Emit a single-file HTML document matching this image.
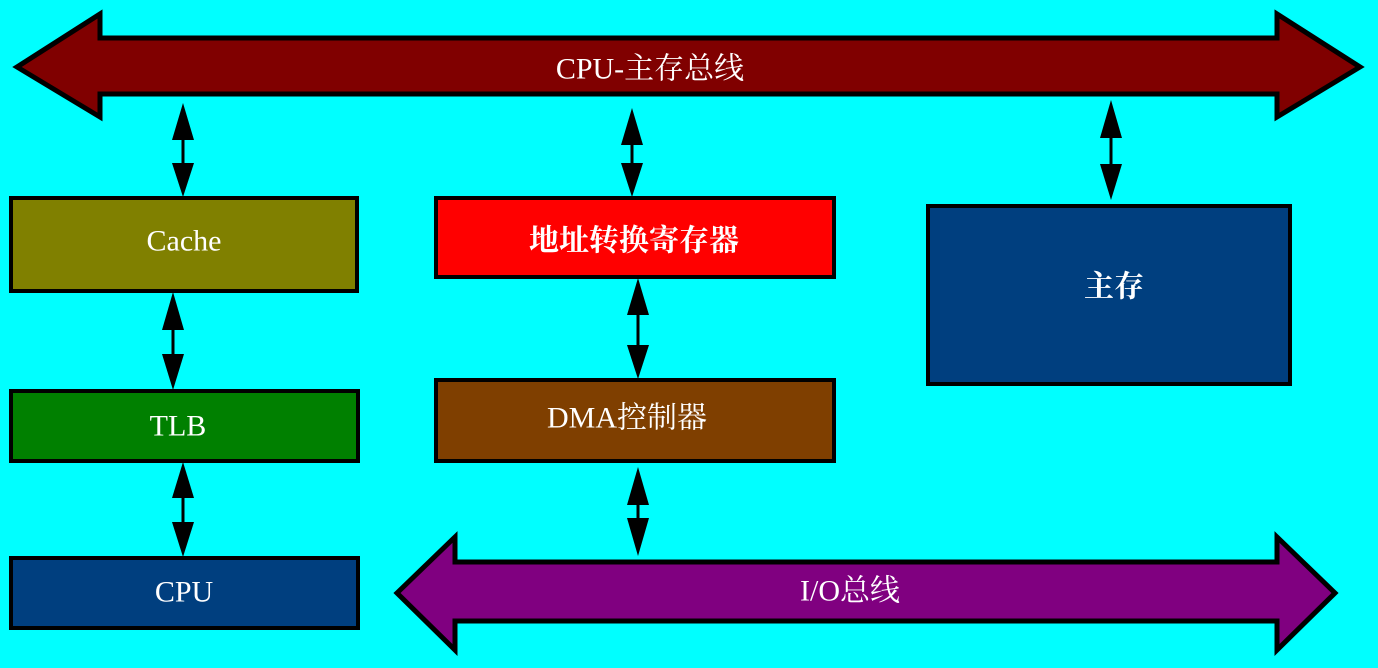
<!DOCTYPE html>
<html><head><meta charset="utf-8"><style>
body{margin:0;background:#00ffff;}
svg text{font-family:"Liberation Serif","Noto Serif CJK SC",serif;fill:#fff;text-anchor:middle;dominant-baseline:central;}
</style></head><body>
<svg width="1378" height="663" xmlns="http://www.w3.org/2000/svg">
<defs>
<marker id="a" viewBox="0 0 10 10" refX="9" refY="5" markerWidth="5" markerHeight="6" orient="auto-start-reverse" markerUnits="userSpaceOnUse" style="overflow:visible">
</marker>
</defs>
<rect width="1378" height="663" fill="#00ffff"/>
<polygon points="17,67 100,14 100,38 1277,38 1277,14 1360,67 1277,117 1277,94 100,94 100,117" fill="#800000" stroke="#000" stroke-width="5" stroke-linejoin="miter"/>
<text x="650" y="69" font-size="30">CPU-主存总线</text>
<polygon points="397,593 455,537 455,562 1277,562 1277,537 1335,593 1277,650 1277,621 455,621 455,650" fill="#800080" stroke="#000" stroke-width="5"/>
<text x="850" y="591" font-size="30">I/O总线</text>
<rect x="11" y="198" width="346" height="93" fill="#808000" stroke="#000" stroke-width="4"/>
<text x="184" y="241" font-size="30">Cache</text>
<rect x="11" y="391" width="347" height="70" fill="#008000" stroke="#000" stroke-width="4"/>
<text x="178" y="426" font-size="30">TLB</text>
<rect x="11" y="558" width="347" height="70" fill="#003f7f" stroke="#000" stroke-width="4"/>
<text x="184" y="592" font-size="30">CPU</text>
<rect x="436" y="198" width="398" height="79" fill="#ff0000" stroke="#000" stroke-width="4"/>
<text x="634" y="241" font-size="30" font-weight="bold">地址转换寄存器</text>
<rect x="436" y="380" width="398" height="81" fill="#7f3f00" stroke="#000" stroke-width="4"/>
<text x="627" y="418" font-size="30">DMA控制器</text>
<rect x="928" y="206" width="362" height="178" fill="#003f7f" stroke="#000" stroke-width="4"/>
<text x="1114" y="287" font-size="30" font-weight="bold">主存</text>
<g fill="#000" stroke="#000">
<!-- double arrows -->
<g id="d">
</g>
</g>
<g stroke="#000" stroke-width="3" fill="#000">
<line x1="183" y1="110" x2="183" y2="190"/><polygon points="183,103 172,140 194,140" stroke="none"/><polygon points="183,197 172,163 194,163" stroke="none"/>
<line x1="173" y1="299" x2="173" y2="383"/><polygon points="173,292 162,330 184,330" stroke="none"/><polygon points="173,390 162,354 184,354" stroke="none"/>
<line x1="183" y1="469" x2="183" y2="550"/><polygon points="183,462 172,498 194,498" stroke="none"/><polygon points="183,557 172,522 194,522" stroke="none"/>
<line x1="632" y1="115" x2="632" y2="190"/><polygon points="632,108 621,145 643,145" stroke="none"/><polygon points="632,197 621,163 643,163" stroke="none"/>
<line x1="638" y1="285" x2="638" y2="372"/><polygon points="638,278 627,315 649,315" stroke="none"/><polygon points="638,379 627,345 649,345" stroke="none"/>
<line x1="638" y1="474" x2="638" y2="549"/><polygon points="638,467 627,505 649,505" stroke="none"/><polygon points="638,556 627,518 649,518" stroke="none"/>
<line x1="1111" y1="107" x2="1111" y2="193"/><polygon points="1111,100 1100,138 1122,138" stroke="none"/><polygon points="1111,200 1100,164 1122,164" stroke="none"/>
</g>
</svg>
</body></html>
